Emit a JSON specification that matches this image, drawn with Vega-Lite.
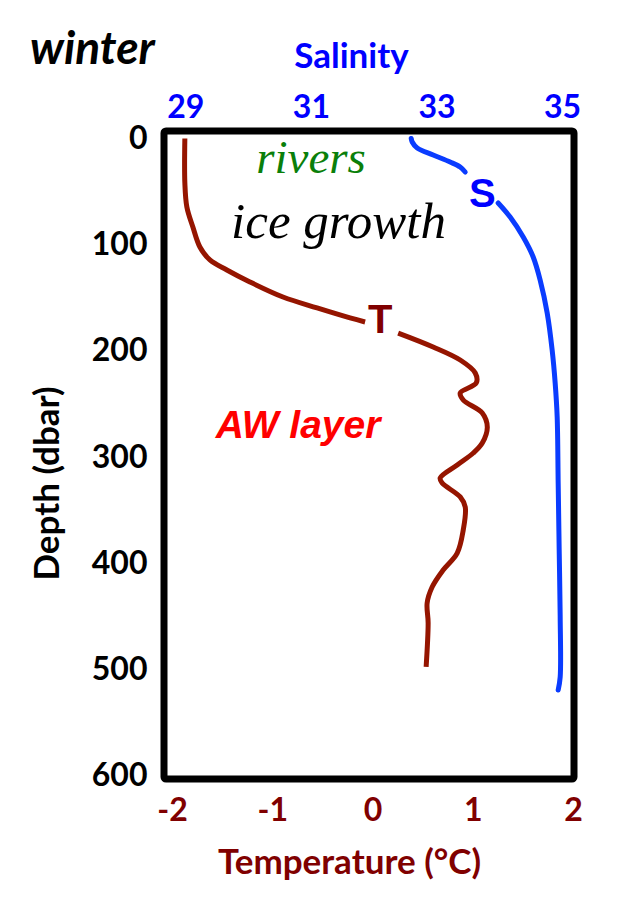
{
  "$schema": "https://vega.github.io/schema/vega-lite/v6.json",
  "width": 410,
  "height": 648,
  "autosize": "none",
  "padding": {"left": 164, "top": 131, "right": 61, "bottom": 136},
  "background": "white",
  "title": {"text": "winter", "anchor": "start", "frame": "group", "font": "Lato", "fontSize": 46, "fontWeight": "bold", "fontStyle": "italic", "color": "black", "dx": -134, "dy": 75, "baseline": "alphabetic"},
  "config": {"view": {"stroke": "black", "strokeWidth": 7, "cornerRadius": 2}, "font": "Lato"},
  "datasets": {
    "temp": [
      {"seg": 1, "depth": 0, "temperature": -1.872},
      {"seg": 1, "depth": 41.9, "temperature": -1.872},
      {"seg": 1, "depth": 64.5, "temperature": -1.852},
      {"seg": 1, "depth": 83.4, "temperature": -1.792},
      {"seg": 1, "depth": 102.2, "temperature": -1.722},
      {"seg": 1, "depth": 114.4, "temperature": -1.622},
      {"seg": 1, "depth": 123.8, "temperature": -1.453},
      {"seg": 1, "depth": 135.1, "temperature": -1.223},
      {"seg": 1, "depth": 149.3, "temperature": -0.893},
      {"seg": 1, "depth": 159.6, "temperature": -0.553},
      {"seg": 1, "depth": 169.0, "temperature": -0.224},
      {"seg": 1, "depth": 172.8, "temperature": -0.074},
      {"seg": 2, "depth": 183.2, "temperature": 0.256},
      {"seg": 2, "depth": 196.3, "temperature": 0.605},
      {"seg": 2, "depth": 208.6, "temperature": 0.875},
      {"seg": 2, "depth": 220.8, "temperature": 1.025},
      {"seg": 2, "depth": 230.2, "temperature": 1.035},
      {"seg": 2, "depth": 239.6, "temperature": 0.875},
      {"seg": 2, "depth": 246.2, "temperature": 0.905},
      {"seg": 2, "depth": 258.5, "temperature": 1.095},
      {"seg": 2, "depth": 271.7, "temperature": 1.145},
      {"seg": 2, "depth": 286.7, "temperature": 1.095},
      {"seg": 2, "depth": 296.1, "temperature": 1.005},
      {"seg": 2, "depth": 307.4, "temperature": 0.845},
      {"seg": 2, "depth": 319.6, "temperature": 0.675},
      {"seg": 2, "depth": 324.4, "temperature": 0.695},
      {"seg": 2, "depth": 337.5, "temperature": 0.875},
      {"seg": 2, "depth": 347.0, "temperature": 0.925},
      {"seg": 2, "depth": 368.6, "temperature": 0.905},
      {"seg": 2, "depth": 390.3, "temperature": 0.845},
      {"seg": 2, "depth": 406.3, "temperature": 0.705},
      {"seg": 2, "depth": 422.3, "temperature": 0.595},
      {"seg": 2, "depth": 437.3, "temperature": 0.545},
      {"seg": 2, "depth": 456.1, "temperature": 0.555},
      {"seg": 2, "depth": 497.5, "temperature": 0.535}
    ],
    "sal": [
      {"seg": 1, "depth": 0, "salinity": 32.597},
      {"seg": 1, "depth": 3.35, "salinity": 32.613},
      {"seg": 1, "depth": 9.0, "salinity": 32.693},
      {"seg": 1, "depth": 15.6, "salinity": 32.947},
      {"seg": 1, "depth": 22.2, "salinity": 33.217},
      {"seg": 1, "depth": 26.9, "salinity": 33.377},
      {"seg": 1, "depth": 31.6, "salinity": 33.457},
      {"seg": 2, "depth": 60.8, "salinity": 33.982},
      {"seg": 2, "depth": 74.0, "salinity": 34.173},
      {"seg": 2, "depth": 92.8, "salinity": 34.381},
      {"seg": 2, "depth": 111.6, "salinity": 34.540},
      {"seg": 2, "depth": 133.3, "salinity": 34.651},
      {"seg": 2, "depth": 164.3, "salinity": 34.763},
      {"seg": 2, "depth": 199.2, "salinity": 34.842},
      {"seg": 2, "depth": 230.2, "salinity": 34.890},
      {"seg": 2, "depth": 262.2, "salinity": 34.922},
      {"seg": 2, "depth": 324.4, "salinity": 34.938},
      {"seg": 2, "depth": 387.3, "salinity": 34.954},
      {"seg": 2, "depth": 450.3, "salinity": 34.970},
      {"seg": 2, "depth": 507.0, "salinity": 34.970},
      {"seg": 2, "depth": 519.2, "salinity": 34.938}
    ]
  },
  "encoding": {
    "y": {
      "field": "depth",
      "type": "quantitative",
      "scale": {"domain": [-7, 603], "nice": false, "zero": false, "reverse": true},
      "axis": {
        "orient": "left",
        "title": "Depth (dbar)",
        "values": [0, 100, 200, 300, 400, 500, 600],
        "labelFont": "Lato",
        "labelFontSize": 32,
        "labelFontWeight": "bold",
        "labelColor": "black",
        "ticks": false,
        "tickSize": 0,
        "domain": false,
        "grid": false,
        "labelPadding": 17,
        "titleFont": "Lato",
        "titleFontSize": 35,
        "titleFontWeight": "bold",
        "titleColor": "black",
        "titleX": -117,
        "titleY": 352,
        "titleBaseline": "middle"
      }
    }
  },
  "layer": [
    {
      "layer": [
        {
          "data": {"name": "temp"},
          "mark": {"type": "line", "color": "#951500", "strokeWidth": 5, "interpolate": "catmull-rom", "strokeCap": "butt"},
          "encoding": {
            "x": {
              "field": "temperature",
              "type": "quantitative",
              "scale": {"domain": [-2.08, 2.01], "nice": false, "zero": false},
              "axis": {
                "orient": "bottom",
                "title": "Temperature (°C)",
                "values": [-2, -1, 0, 1, 2],
                "labelExpr": "'' + datum.value",
                "labelFont": "Lato",
                "labelFontSize": 32,
                "labelFontWeight": "bold",
                "labelColor": "#800000",
                "ticks": false,
                "tickSize": 0,
                "domain": false,
                "grid": false,
                "labelPadding": 16,
                "titleFont": "Lato",
                "titleFontSize": 35,
                "titleFontWeight": "bold",
                "titleColor": "#800000",
                "titleX": 185,
                "titleY": 94,
                "titleBaseline": "alphabetic"
              }
            },
            "detail": {"field": "seg"},
            "order": {"field": "depth"}
          }
        },
        {
          "data": {"values": [{"label": "rivers", "temperature": -0.613, "depth": 32.5}]},
          "mark": {"type": "text", "font": "Liberation Serif", "fontStyle": "italic", "fontSize": 47, "color": "#0a7f0a", "align": "center", "baseline": "alphabetic"},
          "encoding": {"x": {"field": "temperature", "type": "quantitative"}, "text": {"field": "label"}}
        },
        {
          "data": {"values": [{"label": "ice growth", "temperature": -0.339, "depth": 93.7}]},
          "mark": {"type": "text", "font": "Liberation Serif", "fontStyle": "italic", "fontSize": 51, "color": "black", "align": "center", "baseline": "alphabetic"},
          "encoding": {"x": {"field": "temperature", "type": "quantitative"}, "text": {"field": "label"}}
        },
        {
          "data": {"values": [{"label": "AW layer", "temperature": -0.743, "depth": 282}]},
          "mark": {"type": "text", "font": "Liberation Sans", "fontStyle": "italic", "fontWeight": "bold", "fontSize": 39, "color": "#ff0000", "align": "center", "baseline": "alphabetic"},
          "encoding": {"x": {"field": "temperature", "type": "quantitative"}, "text": {"field": "label"}}
        },
        {
          "data": {"values": [{"label": "T", "temperature": 0.076, "depth": 183.2}]},
          "mark": {"type": "text", "font": "Liberation Sans", "fontWeight": "bold", "fontSize": 40, "color": "#800000", "align": "center", "baseline": "alphabetic"},
          "encoding": {"x": {"field": "temperature", "type": "quantitative"}, "text": {"field": "label"}}
        },
        {
          "data": {"values": [{"label": "S", "temperature": 1.095, "depth": 64.5}]},
          "mark": {"type": "text", "font": "Liberation Sans", "fontWeight": "bold", "fontSize": 40, "color": "#0000ff", "align": "center", "baseline": "alphabetic"},
          "encoding": {"x": {"field": "temperature", "type": "quantitative"}, "text": {"field": "label"}}
        }
      ]
    },
    {
      "data": {"name": "sal"},
      "mark": {"type": "line", "color": "#0a3cff", "strokeWidth": 5, "interpolate": "catmull-rom", "strokeCap": "round"},
      "encoding": {
        "x": {
          "field": "salinity",
          "type": "quantitative",
          "scale": {"domain": [28.66, 35.19], "nice": false, "zero": false},
          "axis": {
            "orient": "top",
            "title": "Salinity",
            "values": [29, 31, 33, 35],
            "labelFont": "Lato",
            "labelFontSize": 32,
            "labelFontWeight": "bold",
            "labelColor": "#0000ff",
            "ticks": false,
            "tickSize": 0,
            "domain": false,
            "grid": false,
            "labelPadding": 7,
            "titleFont": "Lato",
            "titleFontSize": 35,
            "titleFontWeight": "bold",
            "titleColor": "#0000ff",
            "titleX": 187,
            "titleY": -64,
            "titleBaseline": "alphabetic"
          }
        },
        "detail": {"field": "seg"},
        "order": {"field": "depth"}
      }
    }
  ],
  "resolve": {"scale": {"x": "independent"}, "axis": {"x": "independent"}}
}
